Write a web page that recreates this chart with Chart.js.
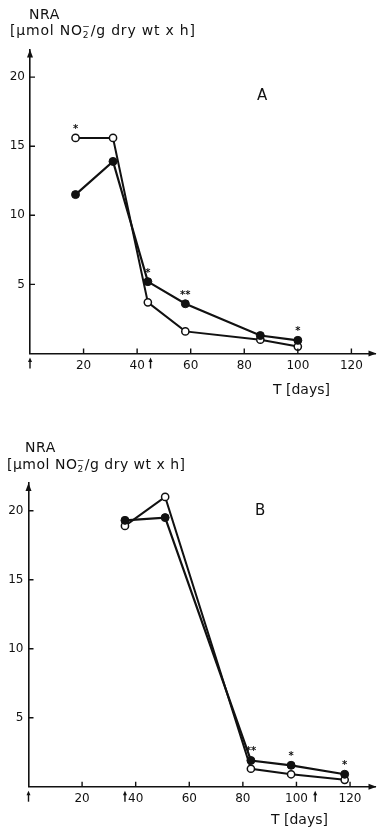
<!DOCTYPE html>
<html>
<head>
<meta charset="utf-8">
<script src="https://cdn.jsdelivr.net/npm/chart.js@4.4.0/dist/chart.umd.min.js"></script>
<style>
  body { margin: 0; background: #fff; width: 381px; height: 831px; position: relative; overflow: hidden;
         font-family: "DejaVu Sans", sans-serif; color: #111; }
  .panel { position: absolute; left: 0; width: 381px; }
  .txt { position: absolute; white-space: nowrap; line-height: 1; }
  .unit { font-size: 14px; letter-spacing: 0.8px; }
  .unit sub, .unit sup { font-size: 9px; line-height: 0; position: relative; }
  .unit sub { vertical-align: baseline; top: 3px; }
  .unit sup { vertical-align: baseline; top: -6px; margin-left: -7px; }
</style>
</head>
<body>
<div class="panel" style="top:0;height:400px"><canvas id="chartA" width="381" height="400"></canvas></div>
<div class="panel" style="top:420px;height:411px"><canvas id="chartB" width="381" height="411"></canvas></div>

<div class="txt" style="left:29px;top:7px;font-size:14px;letter-spacing:0.6px">NRA</div>
<div class="txt unit" style="left:10px;top:23px">[µmol NO<sub>2</sub><sup>−</sup>/g dry wt x h]</div>
<div class="txt" style="left:257px;top:88px;font-size:15px">A</div>
<div class="txt" style="left:273px;top:382px;font-size:14px">T [days]</div>

<div class="txt" style="left:25px;top:440px;font-size:14px;letter-spacing:0.6px">NRA</div>
<div class="txt unit" style="left:7px;top:457px;letter-spacing:0.5px">[µmol NO<sub>2</sub><sup>−</sup>/g dry wt x h]</div>
<div class="txt" style="left:255px;top:503px;font-size:15px">B</div>
<div class="txt" style="left:271px;top:812px;font-size:14px">T [days]</div>

<script>
// Panel A (days, NRA)
const daysA = [17, 31, 44, 58, 86, 100];
const openA = [15.6, 15.6, 3.7, 1.6, 1.0, 0.5];
const filledA = [11.5, 13.9, 5.2, 3.6, 1.3, 0.95];
const sigA = ['*', '', '*', '**', '', '*'];
const markersA = [0, 45];

// Panel B
const daysB = [36, 51, 83, 98, 118];
const openB = [18.9, 21.0, 1.3, 0.9, 0.5];
const filledB = [19.3, 19.5, 1.9, 1.55, 0.9];
const sigB = ['', '', '**', '*', '*'];
const markersB = [0, 36, 107];

const xTicks = [20, 40, 60, 80, 100, 120];
const yTicks = [5, 10, 15, 20];

const INK = '#111';

// inward ticks, axis arrowheads, harvest arrows, significance stars
const decor = {
  id: 'decor',
  afterDraw(chart, args, opts) {
    const { ctx, chartArea: a, scales: { x, y } } = chart;
    ctx.save();
    ctx.strokeStyle = INK;
    ctx.fillStyle = INK;
    ctx.lineWidth = 1.4;

    ctx.beginPath();
    y.ticks.forEach(t => {
      const py = y.getPixelForValue(t.value);
      ctx.moveTo(a.left, py);
      ctx.lineTo(a.left + 5, py);
    });
    x.ticks.forEach(t => {
      const px = x.getPixelForValue(t.value);
      ctx.moveTo(px, a.bottom);
      ctx.lineTo(px, a.bottom - 5);
    });
    ctx.stroke();

    // arrowheads on the axes
    ctx.beginPath();
    ctx.moveTo(a.left, a.top);
    ctx.lineTo(a.left - 3, a.top + 8);
    ctx.lineTo(a.left + 3, a.top + 8);
    ctx.closePath();
    ctx.moveTo(a.right + 1, a.bottom);
    ctx.lineTo(a.right - 7, a.bottom - 3);
    ctx.lineTo(a.right - 7, a.bottom + 3);
    ctx.closePath();
    ctx.fill();

    // small arrows under the axis
    opts.markers.forEach(d => {
      const px = x.getPixelForValue(d);
      ctx.beginPath();
      ctx.moveTo(px, a.bottom + 15);
      ctx.lineTo(px, a.bottom + 7);
      ctx.stroke();
      ctx.beginPath();
      ctx.moveTo(px, a.bottom + 4);
      ctx.lineTo(px - 2, a.bottom + 8.5);
      ctx.lineTo(px + 2, a.bottom + 8.5);
      ctx.closePath();
      ctx.fill();
    });

    // asterisks above the upper point
    ctx.font = 'bold 10px "DejaVu Sans"';
    ctx.textAlign = 'center';
    ctx.textBaseline = 'alphabetic';
    opts.sig.forEach((s, i) => {
      if (!s) return;
      const top = Math.max(opts.open[i], opts.filled[i]);
      const px = x.getPixelForValue(opts.days[i]);
      const py = y.getPixelForValue(top);
      ctx.fillText(s, px, py - 6);
    });
    ctx.restore();
  }
};

function makeChart(id, days, open, filled, sig, markers, box) {
  return new Chart(document.getElementById(id), {
    type: 'line',
    data: {
      datasets: [{
        label: 'filled',
        data: days.map((d, i) => ({ x: d, y: filled[i] })),
        borderColor: INK,
        backgroundColor: INK,
        borderWidth: 2.2,
        pointRadius: 4,
        pointBorderWidth: 1,
        pointBackgroundColor: INK,
        tension: 0,
      }, {
        label: 'open',
        data: days.map((d, i) => ({ x: d, y: open[i] })),
        borderColor: INK,
        backgroundColor: '#fff',
        borderWidth: 2,
        pointRadius: 3.6,
        pointBorderWidth: 1.5,
        pointBackgroundColor: '#fff',
        tension: 0,
      }]
    },
    options: {
      responsive: false,
      animation: false,
      events: [],
      layout: { padding: { top: box.top, right: box.right, left: 0, bottom: 0 } },
      plugins: {
        legend: { display: false },
        tooltip: { enabled: false },
        decor: { days, open, filled, sig, markers },
      },
      scales: {
        x: {
          type: 'linear',
          min: 0,
          max: box.xmax,
          grid: { display: false, drawTicks: false },
          border: { display: true, color: INK, width: 1.6 },
          afterBuildTicks: s => { s.ticks = xTicks.map(v => ({ value: v })); },
          afterFit: s => { s.height = box.xh; },
          ticks: { color: INK, padding: 5, font: { family: 'DejaVu Sans', size: 12 } },
        },
        y: {
          type: 'linear',
          min: 0,
          max: 22,
          grid: { display: false, drawTicks: false },
          border: { display: true, color: INK, width: 1.6 },
          afterBuildTicks: s => { s.ticks = yTicks.map(v => ({ value: v })); },
          afterFit: s => { s.width = box.left; },
          ticks: { color: INK, padding: 5, font: { family: 'DejaVu Sans', size: 12 } },
        }
      }
    },
    plugins: [decor]
  });
}

makeChart('chartA', daysA, openA, filledA, sigA, markersA,
  { top: 49.5, right: 1, xh: 46.5, left: 30, xmax: 129 });
makeChart('chartB', daysB, openB, filledB, sigB, markersB,
  { top: 63.1, right: 2.2, xh: 44.3, left: 28.5, xmax: 129.5 });
</script>
</body>
</html>
